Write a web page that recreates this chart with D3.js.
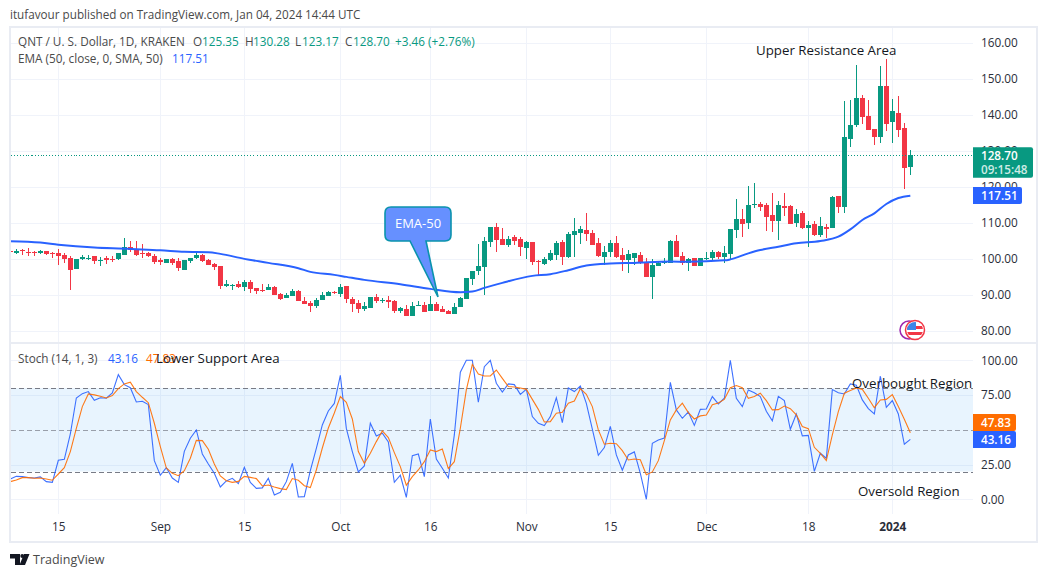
<!DOCTYPE html>
<html><head><meta charset="utf-8">
<script src="https://cdn.jsdelivr.net/npm/d3@7"></script>
<style>
html,body{margin:0;padding:0;background:#fff;overflow:hidden}
svg{display:block}
text{font-family:"Open Sans",Roboto,sans-serif;font-size:11.75px}
</style></head><body>
<svg id="c" width="1047" height="577"></svg>
<script>
const opens=[102.08,101.53,102.45,101.99,101.99,101.53,102.08,101.62,101.53,100.97,100.14,97.08,100.05,100.05,100.69,99.31,100.23,100.05,99.86,100.97,
103.19,102.73,101.62,101.53,100.69,99.58,98.75,99.86,99.31,96.99,99.31,100.14,100.97,99.58,98.47,97.92,92.36,92.64,92.92,92.08,
93.47,91.81,91.25,91.25,92.08,90.14,89.03,89.58,90.97,88.19,87.64,86.81,88.47,89.58,90.69,90.14,92.36,88.94,87.64,85.97,
86.25,89.31,88.47,88.47,88.19,85.42,85.97,84.03,86.9,87.08,85.42,87.36,85.97,85.42,84.58,86.53,88.75,94.31,96.53,97.64,
104.58,108.75,105.42,103.75,105.97,105.42,102.92,104.58,99.49,98.47,99.58,100.97,104.58,100.42,106.53,107.08,107.92,107.08,104.31,100.42,
101.81,104.31,100.97,99.58,100.14,100.97,99.03,94.86,97.92,98.75,98.75,104.86,100.72,98.89,100.19,97.96,99.91,100.19,101.85,100.46,
101.3,107.96,111.02,109.91,114.91,115.19,114.91,112.13,110.46,114.63,114.63,109.91,112.69,108.52,109.63,106.57,108.8,108.52,117.41,114.35,
133.24,137.13,144.63,139.63,136.02,133.8,147.96,137.96,140.46,136.3,125.35];
const highs=[102.36,102.83,102.64,103.1,102.08,102.36,102.27,101.9,102.64,101.53,100.88,100.05,101.06,101.06,100.69,100.42,100.69,100.88,101.53,105.69,
104.86,104.86,104.03,101.81,101.25,100.14,99.86,100.14,100.14,99.58,100.32,102.08,101.25,99.86,98.75,97.92,94.03,92.92,93.75,94.03,
94.03,91.81,92.92,92.92,92.36,90.42,90.42,91.53,91.25,89.31,88.38,89.03,90.88,90.97,90.97,92.92,92.36,89.49,88.66,87.92,
89.31,90.14,89.03,89.58,88.47,86.62,87.08,87.92,88.19,87.92,89.58,87.92,86.81,85.69,87.64,89.31,94.58,96.53,104.03,105.97,
108.75,109.86,108.47,106.25,106.53,105.97,104.86,104.58,99.58,100.42,102.36,104.86,105.14,107.36,111.25,109.03,112.64,107.92,105.69,103.47,
105.14,106.25,102.92,102.36,101.53,101.81,100.14,99.86,99.31,100.14,105.14,106.53,101.85,100.09,100.19,100.19,101.85,102.41,102.13,103.52,
108.24,116.57,113.8,120.19,121.02,115.74,115.46,118.24,116.02,118.24,114.91,113.8,113.24,110.46,110.46,111.57,109.63,117.41,117.41,143.8,
144.07,153.8,145.46,144.07,136.02,153.52,155.46,144.35,145.19,137.69,130.28];
const lows=[99.58,101.25,100.97,100.69,100.69,101.34,100.97,100.14,98.29,98.75,91.25,97.08,99.58,99.77,98.47,97.92,98.47,99.12,99.58,100.97,
101.81,100.69,100.14,100.42,98.47,98.19,98.75,98.19,96.53,96.99,98.75,99.86,99.03,98.19,96.81,91.53,92.08,91.25,91.81,90.97,
90.42,90.14,90.69,91.25,89.86,88.47,89.03,89.58,88.19,87.36,85.14,86.25,88.47,89.58,90.14,89.4,87.64,85.14,84.86,85.42,
86.25,87.64,87.64,86.25,84.86,84.86,84.03,84.03,86.9,85.14,85.42,85.42,85.14,84.58,84.58,86.53,88.75,92.64,95.42,89.86,
103.19,101.81,103.75,103.19,103.75,100.69,99.86,98.19,95.42,98.19,99.31,99.58,98.19,100.14,100.42,104.03,104.86,103.75,100.42,98.19,
100.42,100.14,96.53,95.97,98.19,98.47,94.86,88.75,97.92,98.47,98.75,100.42,98.24,96.67,97.96,97.96,99.63,99.35,99.91,98.7,
99.91,105.74,106.02,108.24,114.07,113.24,107.69,107.41,105.19,111.85,109.63,108.8,108.24,103.24,106.3,106.02,105.74,108.52,112.69,112.69,
131.02,136.57,137.41,135.74,131.57,132.13,135.46,132.13,133.8,119.35,123.17];
const closes=[101.81,102.08,102.18,101.81,101.81,102.18,101.25,101.44,100.69,99.95,96.81,99.86,100.42,100.32,99.31,99.77,99.68,99.77,101.53,103.19,
102.55,100.97,101.44,100.69,99.03,99.12,99.86,98.75,97.36,99.58,100.32,100.97,99.31,98.19,97.64,92.36,92.92,92.82,92.08,93.47,
91.53,90.97,90.97,92.08,89.86,88.75,89.86,90.97,88.19,87.36,86.81,88.47,89.86,90.69,90.42,92.08,88.75,87.36,86.16,86.81,
89.31,88.19,88.66,87.92,85.42,86.25,84.03,86.81,87.08,85.14,87.36,85.42,85.14,84.58,86.53,89.03,94.58,96.53,97.92,104.86,
108.75,105.14,103.75,105.42,104.86,103.19,104.58,99.03,99.31,99.86,101.53,104.31,100.42,106.81,107.64,108.19,106.81,103.75,100.69,101.81,
104.31,100.42,99.58,101.25,101.53,98.75,94.86,98.19,98.75,99.31,104.86,100.42,98.78,100,97.96,100.19,100.19,101.85,100.46,101.57,
108.24,111.02,109.63,114.91,115.19,114.35,111.57,110.46,114.91,114.17,109.63,112.41,108.52,109.35,106.57,109.07,108.24,117.13,114.35,133.8,
137.13,144.63,139.35,135.74,133.8,147.96,137.41,141.02,135.74,125.19,128.70];

const emaDays=[0,5,8,14,18,21,25,29,33,35,39,43,48,50,54,56,59,65,70,75,77,79,82,87,90,93,96,100,104,110,113,119,120,123,125,128,131,135,138,140,142,144,146,148,150];
const emaValues=[104.86,104.49,103.9,103.1,102.82,102.64,102.36,101.9,101.8,101.34,99.95,98.84,97.36,96.34,95.51,94.95,94.12,92.92,91.62,90.69,90.88,91.9,93.29,95.23,95.69,96.81,98.1,98.66,98.84,99.2,99.17,99.54,99.81,101.48,102.41,103.33,104.26,104.9,106.11,108.15,110.74,112.59,115.19,116.85,117.51];

const stochK=[14.6,16.5,16.3,15.6,15.3,16.1,12.7,12.2,28.1,28.8,47,72.9,76,77.5,71.2,73.1,72.7,76.5,89.7,82.5,
80.3,70,70.5,68.1,27.8,17.3,22.8,15.3,12.2,34.5,43.9,49.9,32.6,25.4,18.7,8.9,13.2,15.1,11.3,23,
12.2,7.9,8.2,15.1,3.1,5,12.7,25.9,1.7,1.9,20.6,36.7,53.5,63.5,69,89.2,51,34.3,19.7,24,
54.7,45.6,47.5,41.2,12.2,17.3,1.4,31.4,32.6,16.3,57.8,29,22.3,15.3,46.3,91.4,100,100,69.8,95.4,
100,83.5,77.2,83,82.5,75.5,79.1,59.5,54.7,53,59.5,73.1,55.2,80.1,77.5,81.5,69,50.4,31.7,37.2,
52.5,31.9,20.9,31.9,34.1,18.7,0,40.3,42.7,44.1,84.2,64.3,58.3,62.8,53.2,64.7,65,73.9,68.6,72.7,
100,72.7,66.7,78.7,76.7,73.9,63.3,56.4,74.1,71,50.4,61.4,45.6,46,20.1,33.1,29.5,78.9,76.7,75.8,
83,82,71.5,65.2,61.4,88.7,66.2,71,61.4,39.6,43.16];
const stochD=[12.7,13.9,15.6,15.6,15.1,15.3,14.6,13.7,18.2,22.8,34.3,51.1,66.7,75.8,75.1,74.1,72.9,74.6,79.6,83,
84.2,77.5,73.4,69.5,54.7,37.9,22.5,18.7,17,20.6,29.5,42.4,42.2,36,25.4,16.8,13.4,12.2,12.9,16.5,
15.8,14.9,9.6,10.3,8.9,7.7,7,14.9,13.7,9.8,8.4,21.1,36.9,51.3,62.1,73.9,69.8,57.8,34.3,25.9,
33.1,41.5,49.2,44.4,33.6,23.5,10.1,16.3,21.1,27.1,35.5,34.3,36.2,22.1,27.1,51.1,78.7,97.1,90.2,88.7,
88.7,93,87,81.1,80.8,80.1,79.1,71.9,64.7,55.6,55.9,61.9,62.6,69.1,70.7,79.6,75.5,66.7,49.9,39.6,
40.3,40,35,28.3,29,28.5,17.7,19.7,27.8,42.2,57.1,64.3,69.1,62.4,57.8,60,60.7,68.1,69.3,71.9,
80.3,81.8,80.3,72.7,73.9,76.3,71,64.3,64.5,67.1,65.2,60.7,52.3,50.8,37.4,33.1,27.8,46.3,63.1,76.3,
78.2,80.1,79.1,72.7,65.9,71.5,71.9,75.3,66.7,57.6,47.83];

const priceTicks=[80,90,100,110,120,130,140,150,160];
const stochTicks=[0,25,50,75,100];
const stochBands=[80,50,20];
const timeTickDays=[8,25,39,55,70,86,100,116,133,147];
const timeTickLabels=["15","Sep","15","Oct","16","Nov","15","Dec","18","2024"];

const GREEN="#089981",RED="#f23645",BLUE="#2962ff",ORANGE="#ff6d00",GRID="#f0f3fa",FRAME="#e9ecf3",TXT="#131722",HEAD="#4a4a4a",AX="#2a2e39";
const L=10.5,R=973,TOP=28,SEP=343,PB=514;
const FONT='"Open Sans",Roboto,sans-serif';
const x=d3.scaleLinear().domain([0,150]).range([10.33,910.33]);
const y=d3.scaleLinear().domain([100,160]).range([258.7,42.7]);
const ys=d3.scaleLinear().domain([0,100]).range([499.3,360.3]);
const svg=d3.select("#c");
const defs=svg.append("defs");
defs.append("clipPath").attr("id","mainClip").append("rect").attr("x",L).attr("y",TOP).attr("width",R-L).attr("height",SEP-TOP);
defs.append("clipPath").attr("id","subClip").append("rect").attr("x",L).attr("y",SEP).attr("width",R-L).attr("height",PB-SEP);
defs.append("clipPath").attr("id","flagClip").append("circle").attr("cx",915).attr("cy",330).attr("r",8);

// header
svg.append("text").attr("x",10).attr("y",19).attr("fill",HEAD).style("font-size","11.7px").text("itufavour published on TradingView.com, Jan 04, 2024 14:44 UTC");

// grid
const g=svg.append("g").attr("shape-rendering","crispEdges");
g.selectAll("line.v").data(timeTickDays).join("line").attr("x1",d=>Math.round(x(d))+.5).attr("x2",d=>Math.round(x(d))+.5).attr("y1",TOP).attr("y2",PB).attr("stroke",GRID);
g.selectAll("line.h").data(priceTicks).join("line").attr("class","h").attr("x1",L).attr("x2",R).attr("y1",d=>Math.round(y(d))+.5).attr("y2",d=>Math.round(y(d))+.5).attr("stroke",GRID);
g.selectAll("line.hs").data(stochTicks.filter(d=>d!==50)).join("line").attr("class","hs").attr("x1",L).attr("x2",R).attr("y1",d=>Math.round(ys(d))+.5).attr("y2",d=>Math.round(ys(d))+.5).attr("stroke",GRID);

// stochastic band
svg.append("rect").attr("x",L).attr("width",R-L).attr("y",ys(stochBands[0])).attr("height",ys(stochBands[2])-ys(stochBands[0])).attr("fill","#2196f3").attr("fill-opacity",.1);
svg.selectAll("line.band").data(stochBands).join("line").attr("class","band").attr("x1",L).attr("x2",R).attr("y1",d=>Math.round(ys(d))+.5).attr("y2",d=>Math.round(ys(d))+.5)
 .attr("stroke","#787b86").attr("stroke-opacity",d=>d===50?.7:1).attr("stroke-dasharray","5 3").attr("shape-rendering","crispEdges");

// candles
const days=d3.range(opens.length);
const main=svg.append("g").attr("clip-path","url(#mainClip)");
const c=main.append("g").attr("shape-rendering","crispEdges");
const col=i=>closes[i]>=opens[i]?GREEN:RED;
c.selectAll("line").data(days).join("line").attr("x1",i=>Math.round(x(i))+.5).attr("x2",i=>Math.round(x(i))+.5).attr("y1",i=>y(highs[i])).attr("y2",i=>y(lows[i])).attr("stroke",col);
c.selectAll("rect").data(days).join("rect").attr("x",i=>Math.round(x(i))-2).attr("width",5)
 .attr("y",i=>y(Math.max(opens[i],closes[i]))).attr("height",i=>Math.max(1,Math.abs(y(opens[i])-y(closes[i])))).attr("fill",col);

// last price line
svg.append("line").attr("x1",L).attr("x2",R).attr("y1",Math.round(y(closes[150]))+.5).attr("y2",Math.round(y(closes[150]))+.5).attr("stroke",GREEN).attr("stroke-dasharray","1 2").attr("shape-rendering","crispEdges");

// EMA
main.append("path").attr("fill","none").attr("stroke",BLUE).attr("stroke-width",2)
 .attr("d",d3.line().x((d,i)=>x(emaDays[i])).y(d=>y(d)).curve(d3.curveMonotoneX)(emaValues));

// stochastic lines
const sub=svg.append("g").attr("clip-path","url(#subClip)");
const sl=d3.line().x((d,i)=>x(i)).y(d=>ys(d));
sub.append("path").attr("d",sl(stochK)).attr("fill","none").attr("stroke",BLUE).attr("stroke-opacity",.9).attr("stroke-width",1.1);
sub.append("path").attr("d",sl(stochD)).attr("fill","none").attr("stroke",ORANGE).attr("stroke-opacity",.9).attr("stroke-width",1.1);

// callout
svg.append("path").attr("d","M391 207H445Q451 207 451 213V235Q451 241 445 241H426L438 297L410 241H391Q385 241 385 235V213Q385 207 391 207Z")
 .attr("fill","#6690ff").attr("stroke","#0a93ad").attr("stroke-width",1.6);
svg.append("text").attr("x",418).attr("y",228).attr("text-anchor","middle").attr("fill","#fff").style("font-size","13px").text("EMA-50");

// currency icon
const ic=svg.append("g");
ic.append("circle").attr("cx",909).attr("cy",330).attr("r",9).attr("fill","#fff").attr("stroke","#9c27b0").attr("stroke-width",1.5);
ic.append("circle").attr("cx",915).attr("cy",330).attr("r",9.5).attr("fill","#fff").attr("stroke",RED).attr("stroke-width",1.5);
const fl=ic.append("g").attr("clip-path","url(#flagClip)");
fl.append("rect").attr("x",907).attr("y",322).attr("width",16).attr("height",16).attr("fill","#fff");
fl.append("rect").attr("x",907).attr("y",326).attr("width",16).attr("height",3).attr("fill",RED);
fl.append("rect").attr("x",907).attr("y",332).attr("width",16).attr("height",3).attr("fill",RED);
fl.append("rect").attr("x",907).attr("y",322).attr("width",9).attr("height",8).attr("fill","#3d86e8");

// frame
const fr=svg.append("g").attr("shape-rendering","crispEdges").attr("fill",FRAME);
fr.append("rect").attr("x",9).attr("y",26).attr("width",1029).attr("height",2);
fr.append("rect").attr("x",9).attr("y",541).attr("width",1029).attr("height",2);
fr.append("rect").attr("x",9).attr("y",26).attr("width",2).attr("height",517);
fr.append("rect").attr("x",1036).attr("y",26).attr("width",2).attr("height",517);
fr.append("rect").attr("x",10).attr("y",342).attr("width",1026).attr("height",1.5);

// axes
function styleAxis(a){a.select(".domain").remove();a.selectAll(".tick line").remove();a.selectAll("text").attr("fill",AX).style("font-family",FONT).style("font-size","11.8px");}
svg.append("g").attr("transform","translate(975,0)").call(d3.axisRight(y).tickValues(priceTicks).tickFormat(d3.format(".2f")).tickSize(0).tickPadding(6)).call(styleAxis);
svg.append("g").attr("transform","translate(975,0)").call(d3.axisRight(ys).tickValues(stochTicks.filter(d=>d!==50)).tickFormat(d3.format(".2f")).tickSize(0).tickPadding(6)).call(styleAxis);
const xa=svg.append("g").attr("transform","translate(0,514)").call(d3.axisBottom(x).tickValues(timeTickDays).tickFormat((d,i)=>timeTickLabels[i]).tickSize(0).tickPadding(9)).call(styleAxis);
xa.selectAll("text").filter((d,i)=>timeTickLabels[i]==="2024").style("font-weight","700");

// price tags
function tag(yc,h,w,fill,lines){
 const t=svg.append("g");
 t.append("path").attr("d",`M973 ${yc-h/2}H${973+w-2}Q${973+w} ${yc-h/2} ${973+w} ${yc-h/2+2}V${yc+h/2-2}Q${973+w} ${yc+h/2} ${973+w-2} ${yc+h/2}H973Z`).attr("fill",fill);
 lines.forEach(l=>t.append("text").attr("x",981).attr("y",l.y).attr("fill",l.c).style("font-weight",l.w).style("font-size","11.7px").text(l.t));
}
tag(162.5,30.5,60,GREEN,[{t:"128.70",y:160,c:"#fff",w:600},{t:"09:15:48",y:174,c:"#cfece6",w:600}]);
tag(195.5,17,49,BLUE,[{t:"117.51",y:200,c:"#fff",w:600}]);
tag(422.5,17,43,ORANGE,[{t:"47.83",y:427,c:"#fff",w:600}]);
tag(439.5,17,43,BLUE,[{t:"43.16",y:444,c:"#fff",w:600}]);

// legends
function runs(yp,arr){arr.forEach(a=>svg.append("text").attr("x",a[0]).attr("y",yp).attr("fill",a[2]).text(a[1]));}
runs(46,[[18,"QNT / U. S. Dollar, 1D, KRAKEN",HEAD],[193,"O",HEAD],[202,"125.35",GREEN],[245,"H",HEAD],[253,"130.28",GREEN],[295,"L",HEAD],[302,"123.17",GREEN],[345,"C",HEAD],[353,"128.70",GREEN],[395,"+3.46 (+2.76%)",GREEN]]);
runs(63,[[18,"EMA (50, close, 0, SMA, 50)",HEAD],[172,"117.51",BLUE]]);
runs(363,[[18,"Stoch (14, 1, 3)",HEAD],[108,"43.16",BLUE],[146,"47.83",ORANGE]]);

// annotations
[["Upper Resistance Area",756,55],["Lower Support Area",156,363],["Overbought Region",852,388],["Oversold Region",858,496]]
 .forEach(a=>svg.append("text").attr("x",a[1]).attr("y",a[2]).attr("fill",TXT).style("font-size","13.3px").text(a[0]));

// footer logo
svg.append("path").attr("fill",TXT).attr("d","M10 554H20V565H15V558.5H10ZM24 554H29.5L25 565H19.5Z");
svg.append("circle").attr("cx",22.2).attr("cy",556).attr("r",1.9).attr("fill",TXT);
svg.append("text").attr("x",33).attr("y",564).attr("fill",HEAD).style("font-size","12.5px").text("TradingView");
</script></body></html>
